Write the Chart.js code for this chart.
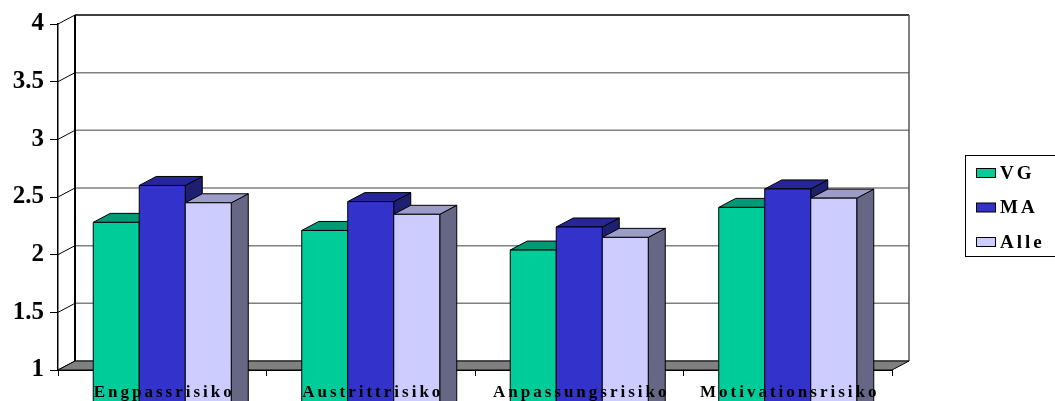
<!DOCTYPE html>
<html lang="de">
<head>
  <meta charset="UTF-8">
  <title>Risiken</title>
  <style>
    body { margin: 0; background: #fff; }
    #wrap { width: 1055px; height: 401px; }
  </style>
</head>
<body>
  <div id="wrap"><canvas id="grafik" width="1055" height="401"></canvas></div>

  <script src="https://cdn.jsdelivr.net/npm/chart.js"></script>
  <script>
    // Daten
    const kategorien = ['Engpassrisiko', 'Austrittrisiko', 'Anpassungsrisiko', 'Motivationsrisiko'];
    const serien = ['VG', 'MA', 'Alle'];
    const werteVG = [2.28, 2.21, 2.04, 2.41];
    const werteMA = [2.6, 2.46, 2.24, 2.57];
    const werteAlle = [2.45, 2.35, 2.15, 2.49];

    // Farben: Vorderseite, Deckel, Seite
    const farben = [
      { front: '#00CC99', top: '#009975', side: '#007a5c' },
      { front: '#3333CC', top: '#262699', side: '#1f1f70' },
      { front: '#CCCCFF', top: '#9C9CC8', side: '#666685' }
    ];

    const TIEFE_X = 17, TIEFE_Y = 9;
    const SCHRIFT = '"Liberation Serif", "Times New Roman", serif';

    function viereck(ctx, pts, fill) {
      ctx.beginPath();
      ctx.moveTo(pts[0][0], pts[0][1]);
      for (let k = 1; k < pts.length; k++) ctx.lineTo(pts[k][0], pts[k][1]);
      ctx.closePath();
      ctx.fillStyle = fill;
      ctx.fill();
      ctx.stroke();
    }

    // 3D-Darstellung: Rückwand, Boden, Säulen mit Deckel und Seite
    const saeulen3d = {
      id: 'saeulen3d',
      beforeDatasetsDraw(chart) {
        const ctx = chart.ctx;
        const a = chart.chartArea;
        const y = chart.scales.y;
        ctx.save();

        // Rückwand
        ctx.fillStyle = '#fff';
        ctx.fillRect(a.left + TIEFE_X, a.top - TIEFE_Y, a.right - a.left, a.bottom - a.top);

        // Gitterlinien an der Rückwand
        y.ticks.forEach(t => {
          const py = y.getPixelForValue(t.value) - TIEFE_Y;
          ctx.strokeStyle = (t.value === 4) ? '#000' : '#808080';
          ctx.lineWidth = 1.5;
          ctx.beginPath();
          ctx.moveTo(a.left + TIEFE_X, py);
          ctx.lineTo(a.right + TIEFE_X, py);
          ctx.stroke();
          // Schräge an der linken Seitenwand
          ctx.strokeStyle = '#000';
          ctx.lineWidth = 1;
          ctx.beginPath();
          ctx.moveTo(a.left, py + TIEFE_Y);
          ctx.lineTo(a.left + TIEFE_X, py);
          ctx.stroke();
        });

        // Kanten der Rückwand
        ctx.strokeStyle = '#000';
        ctx.lineWidth = 2;
        ctx.beginPath();
        ctx.moveTo(a.left + TIEFE_X, a.bottom - TIEFE_Y);
        ctx.lineTo(a.left + TIEFE_X, a.top - TIEFE_Y);
        ctx.stroke();
        ctx.strokeStyle = '#555';
        ctx.lineWidth = 1.5;
        ctx.beginPath();
        ctx.moveTo(a.right + TIEFE_X, a.top - TIEFE_Y);
        ctx.lineTo(a.right + TIEFE_X, a.bottom - TIEFE_Y);
        ctx.stroke();

        // Boden
        ctx.strokeStyle = '#000';
        ctx.lineWidth = 1;
        viereck(ctx, [
          [a.left, a.bottom], [a.right, a.bottom],
          [a.right + TIEFE_X, a.bottom - TIEFE_Y], [a.left + TIEFE_X, a.bottom - TIEFE_Y]
        ], '#808080');

        // Säulen je Kategorie von links nach rechts
        const metas = chart.data.datasets.map((d, i) => chart.getDatasetMeta(i));
        kategorien.forEach((k, i) => {
          metas.forEach((meta, d) => {
            const el = meta.data[i];
            const p = el.getProps(['x', 'y', 'base', 'width'], true);
            const l = p.x - p.width / 2, r = p.x + p.width / 2;
            const f = farben[d];
            ctx.strokeStyle = '#000';
            ctx.lineWidth = 1;
            // Seite
            viereck(ctx, [[r, p.base], [r + TIEFE_X, p.base - TIEFE_Y], [r + TIEFE_X, p.y - TIEFE_Y], [r, p.y]], f.side);
            // Deckel
            viereck(ctx, [[l, p.y], [l + TIEFE_X, p.y - TIEFE_Y], [r + TIEFE_X, p.y - TIEFE_Y], [r, p.y]], f.top);
            // Vorderseite
            viereck(ctx, [[l, p.base], [l, p.y], [r, p.y], [r, p.base]], f.front);
          });
        });

        ctx.restore();
        return false;
      },
      afterDraw(chart) {
        const ctx = chart.ctx;
        const x = chart.scales.x;
        ctx.save();

        // Kategorienbeschriftung
        ctx.fillStyle = '#000';
        ctx.font = 'bold 17px ' + SCHRIFT;
        ctx.letterSpacing = '3px';
        ctx.textAlign = 'center';
        ctx.textBaseline = 'alphabetic';
        kategorien.forEach((k, i) => {
          ctx.fillText(k, x.getPixelForValue(i) + 2, 397);
        });

        // Legende
        ctx.letterSpacing = '3px';
        ctx.strokeStyle = '#000';
        ctx.lineWidth = 1;
        ctx.fillStyle = '#fff';
        ctx.fillRect(965.5, 155.5, 100, 101);
        ctx.strokeRect(965.5, 155.5, 100, 101);
        ctx.font = 'bold 19px ' + SCHRIFT;
        ctx.textAlign = 'left';
        ctx.textBaseline = 'middle';
        serien.forEach((s, i) => {
          const zy = 173 + i * 34.5;
          ctx.fillStyle = farben[i].front;
          ctx.fillRect(976.5, zy - 4.5, 19, 9);
          ctx.strokeRect(976.5, zy - 4.5, 19, 9);
          ctx.fillStyle = '#000';
          ctx.fillText(s, 1000, zy + 1);
        });

        ctx.restore();
      }
    };

    new Chart(document.getElementById('grafik'), {
      type: 'bar',
      data: {
        labels: kategorien,
        datasets: [
          { label: serien[0], data: werteVG, backgroundColor: farben[0].front },
          { label: serien[1], data: werteMA, backgroundColor: farben[1].front },
          { label: serien[2], data: werteAlle, backgroundColor: farben[2].front }
        ]
      },
      options: {
        responsive: false,
        animation: false,
        layout: { padding: { top: 24, right: 163, bottom: 0, left: 0 } },
        datasets: { bar: { barPercentage: 1, categoryPercentage: 0.662 } },
        plugins: { legend: { display: false }, tooltip: { enabled: false } },
        scales: {
          x: {
            afterFit(s) { s.height = 31; },
            ticks: { display: false },
            grid: { drawOnChartArea: false, offset: true, tickLength: 6, color: '#000' },
            border: { color: '#000', width: 1 }
          },
          y: {
            min: 1,
            max: 4,
            afterFit(s) { s.width = 58; },
            ticks: {
              stepSize: 0.5,
              color: '#000',
              padding: 6,
              font: { family: SCHRIFT, size: 25, weight: 'bold' },
              callback: v => String(v)
            },
            grid: { drawOnChartArea: false, tickLength: 8, color: '#000' },
            border: { color: '#000', width: 1.5 }
          }
        }
      },
      plugins: [saeulen3d]
    });
  </script>
</body>
</html>
